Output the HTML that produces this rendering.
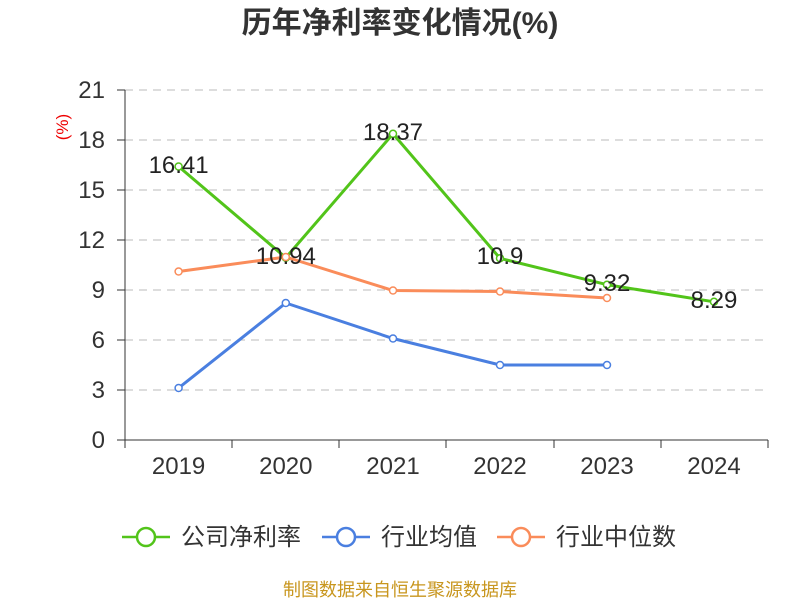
<!DOCTYPE html>
<html><head><meta charset="utf-8"><style>
html,body{margin:0;padding:0;background:#fff;}
svg{display:block;font-family:"Liberation Sans","Noto Sans CJK SC",sans-serif;}
</style></head><body>
<svg width="800" height="600" viewBox="0 0 800 600" xmlns="http://www.w3.org/2000/svg">
<text x="400" y="33" text-anchor="middle" font-size="30" font-weight="bold" fill="#333">历年净利率变化情况(%)</text>
<text x="68" y="127" text-anchor="middle" font-size="17" fill="#e00" transform="rotate(-90 68 127)">(%)</text>
<g stroke="#bbb" stroke-dasharray="8,6" stroke-width="1">
<line x1="125" x2="768" y1="90" y2="90"/><line x1="125" x2="768" y1="140" y2="140"/>
<line x1="125" x2="768" y1="190" y2="190"/><line x1="125" x2="768" y1="240" y2="240"/>
<line x1="125" x2="768" y1="290" y2="290"/><line x1="125" x2="768" y1="340" y2="340"/>
<line x1="125" x2="768" y1="390" y2="390"/>
</g>
<g stroke="#333" stroke-width="1">
<line x1="125" x2="125" y1="90" y2="440"/><line x1="125" x2="768" y1="440" y2="440"/>
<line x1="117" x2="125" y1="90" y2="90"/><line x1="117" x2="125" y1="140" y2="140"/>
<line x1="117" x2="125" y1="190" y2="190"/><line x1="117" x2="125" y1="240" y2="240"/>
<line x1="117" x2="125" y1="290" y2="290"/><line x1="117" x2="125" y1="340" y2="340"/>
<line x1="117" x2="125" y1="390" y2="390"/><line x1="117" x2="125" y1="440" y2="440"/>
<line x1="125" x2="125" y1="440" y2="448"/><line x1="232" x2="232" y1="440" y2="448"/>
<line x1="339" x2="339" y1="440" y2="448"/><line x1="446" x2="446" y1="440" y2="448"/>
<line x1="554" x2="554" y1="440" y2="448"/><line x1="661" x2="661" y1="440" y2="448"/>
<line x1="768" x2="768" y1="440" y2="448"/>
</g>
<g font-size="24" fill="#333" text-anchor="end">
<text x="105" y="98">21</text><text x="105" y="148">18</text><text x="105" y="198">15</text>
<text x="105" y="248">12</text><text x="105" y="298">9</text><text x="105" y="348">6</text>
<text x="105" y="398">3</text><text x="105" y="448">0</text>
</g>
<g font-size="24" fill="#333" text-anchor="middle">
<text x="178.6" y="474">2019</text><text x="285.8" y="474">2020</text><text x="393" y="474">2021</text>
<text x="500" y="474">2022</text><text x="607" y="474">2023</text><text x="714" y="474">2024</text>
</g>
<g fill="none" stroke-width="3">
<polyline stroke="#52c41a" points="178.6,166.5 285.8,257.7 393,133.8 500,258.3 607,284.7 714,301.8"/>
<polyline stroke="#4a7fe0" points="178.6,388 285.8,303 393,338.5 500,365 607,365"/>
<polyline stroke="#fa8c5a" points="178.6,271.5 285.8,257 393,290.5 500,291.5 607,298"/>
</g>
<g fill="#fff" stroke-width="1.5">
<g stroke="#52c41a"><circle cx="178.6" cy="166.5" r="3.5"/><circle cx="285.8" cy="257.7" r="3.5"/><circle cx="393" cy="133.8" r="3.5"/><circle cx="500" cy="258.3" r="3.5"/><circle cx="607" cy="284.7" r="3.5"/><circle cx="714" cy="301.8" r="3.5"/></g>
<g stroke="#4a7fe0"><circle cx="178.6" cy="388" r="3.5"/><circle cx="285.8" cy="303" r="3.5"/><circle cx="393" cy="338.5" r="3.5"/><circle cx="500" cy="365" r="3.5"/><circle cx="607" cy="365" r="3.5"/></g>
<g stroke="#fa8c5a"><circle cx="178.6" cy="271.5" r="3.5"/><circle cx="285.8" cy="257" r="3.5"/><circle cx="393" cy="290.5" r="3.5"/><circle cx="500" cy="291.5" r="3.5"/><circle cx="607" cy="298" r="3.5"/></g>
</g>
<g font-size="24" fill="#222" text-anchor="middle">
<text x="178.6" y="173">16.41</text><text x="285.8" y="264">10.94</text><text x="393" y="140">18.37</text>
<text x="500" y="264">10.9</text><text x="607" y="291">9.32</text><text x="714" y="308">8.29</text>
</g>
<g stroke-width="2.5" fill="#fff">
<line x1="122" x2="170" y1="537" y2="537" stroke="#52c41a"/><circle cx="146" cy="537" r="9" stroke="#52c41a"/>
<line x1="322" x2="370" y1="537" y2="537" stroke="#4a7fe0"/><circle cx="346" cy="537" r="9" stroke="#4a7fe0"/>
<line x1="497" x2="545" y1="537" y2="537" stroke="#fa8c5a"/><circle cx="521" cy="537" r="9" stroke="#fa8c5a"/>
</g>
<g font-size="24" fill="#333">
<text x="181" y="545">公司净利率</text><text x="381" y="545">行业均值</text><text x="556" y="545">行业中位数</text>
</g>
<text x="400" y="596" text-anchor="middle" font-size="18" fill="#c8961e">制图数据来自恒生聚源数据库</text>
</svg>
</body></html>
